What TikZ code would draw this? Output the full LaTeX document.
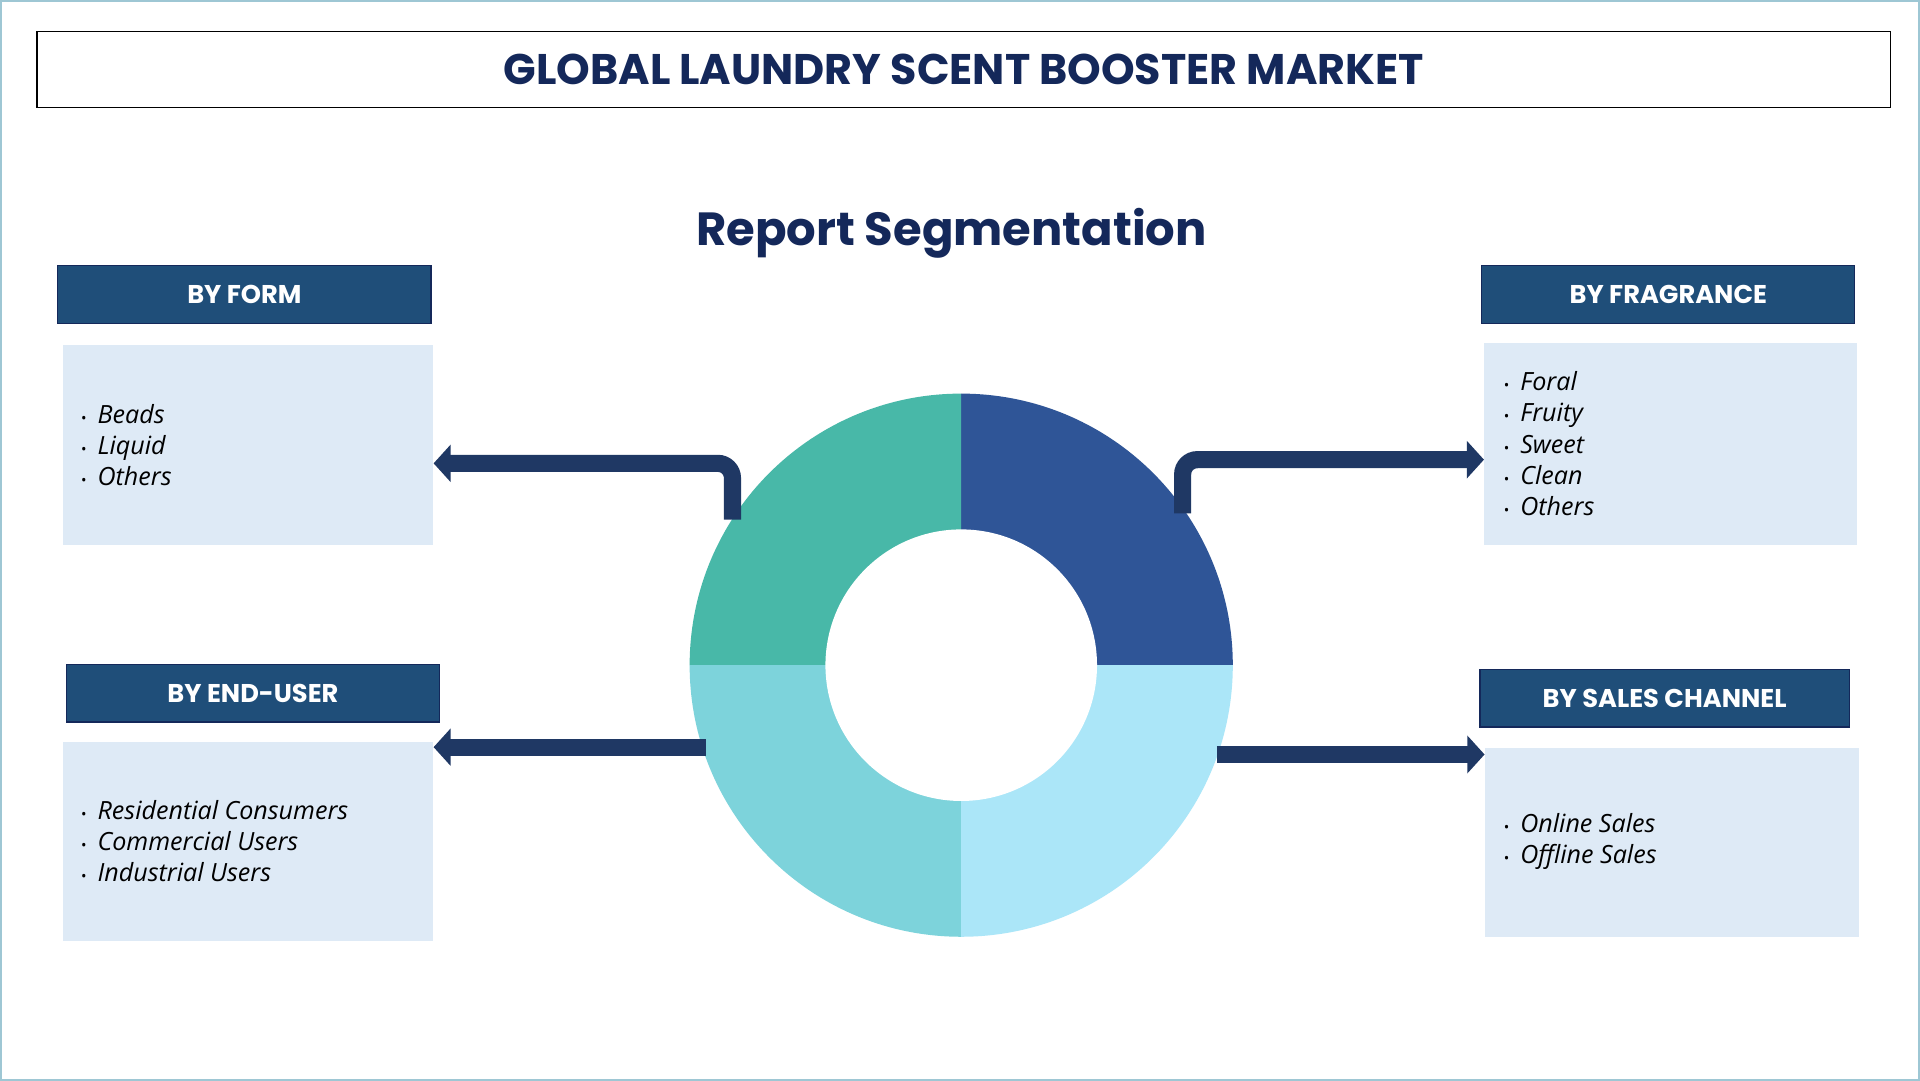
\documentclass[tikz,border=0pt]{standalone}
\usepackage{fontspec}
\setmainfont{Open Sans}
\newfontfamily\headfont{Poppins}
\usetikzlibrary{arrows.meta}
\definecolor{navy}{HTML}{14285A}
\definecolor{headblue}{HTML}{1F4E79}
\definecolor{paleblue}{HTML}{DEEAF6}
\definecolor{arrownavy}{HTML}{1F3864}
\definecolor{segA}{HTML}{2F5597}
\definecolor{segB}{HTML}{48B8A8}
\definecolor{segC}{HTML}{7DD3DB}
\definecolor{segD}{HTML}{ABE6F8}
\tikzset{
  headbox/.style={draw=navy, line width=1pt, fill=headblue, text=white, font=\headfont\bfseries\fontsize{21}{24}\selectfont, minimum width=305pt, minimum height=47pt, inner sep=0pt},
  listbox/.style={fill=paleblue, minimum width=303pt, inner sep=0pt},
  itemtext/.style={anchor=west, font=\itshape\fontsize{20.5}{25.5}\selectfont, align=left, text=black},
  segarrow/.style={draw=arrownavy, line width=14pt, rounded corners=12pt, -{Triangle[width=30pt,length=14pt]}}
}
\newcommand{\bul}{{\upshape\large\textbullet}\hspace{9pt}}
\begin{document}
\begin{tikzpicture}[x=1pt,y=-1pt]
  \draw[fill=white, draw=segD!70!gray, line width=1.5pt] (0,0) rectangle (1568,882);
  \node[draw=black, line width=1pt, minimum width=1515pt, minimum height=62pt, font=\headfont\bfseries\fontsize{35}{40}\selectfont, text=navy] (title) at (787,56) {GLOBAL LAUNDRY SCENT BOOSTER MARKET};
  \node[font=\headfont\bfseries\fontsize{38}{42}\selectfont, text=navy] (report) at (777,190) {Report Segmentation};

  % donut
  \fill[segA] (785,543) -- (785,321) arc[start angle=-90, end angle=0, radius=222] -- cycle;
  \fill[segB] (785,543) -- (785,321) arc[start angle=-90, end angle=-180, radius=222] -- cycle;
  \fill[segC] (785,543) -- (563,543) arc[start angle=180, end angle=90, radius=222] -- cycle;
  \fill[segD] (785,543) -- (1007,543) arc[start angle=0, end angle=90, radius=222] -- cycle;
  \node[circle, fill=white, minimum size=222pt, inner sep=0pt] (hole) at (785,543) {};

  % segments
  \node[headbox] (formhead) at (199,240) {BY FORM};
  \node[listbox, minimum height=163pt] (formlist) at (202,363) {};
  \node[itemtext] (formitems) at (62,363) {\bul Beads\\ \bul Liquid\\ \bul Others};

  \node[headbox] (fraghead) at (1363,240) {BY FRAGRANCE};
  \node[listbox, minimum height=165pt, minimum width=305pt] (fraglist) at (1365,362) {};
  \node[itemtext] (fragitems) at (1225,362) {\bul Foral\\ \bul Fruity\\ \bul Sweet\\ \bul Clean\\ \bul Others};

  \node[headbox] (endhead) at (206,566) {BY END-USER};
  \node[listbox, minimum height=163pt] (endlist) at (202,687) {};
  \node[itemtext] (enditems) at (62,687) {\bul Residential Consumers\\ \bul Commercial Users\\ \bul Industrial Users};

  \node[headbox, minimum width=302pt] (saleshead) at (1360,570) {BY SALES CHANNEL};
  \node[listbox, minimum height=155pt, minimum width=306pt] (saleslist) at (1366,688) {};
  \node[itemtext] (salesitems) at (1225,687) {\bul Online Sales\\ \bul Offline Sales};

  % arrows
  \coordinate (formstart) at (598,424);
  \coordinate (fragstart) at (966,419);
  \coordinate (endstart) at (576,610);
  \coordinate (salesstart) at (994,616);
  \draw[segarrow] (formstart) -- (598,378) -- (formlist.east |- 0,378);
  \draw[segarrow] (fragstart) -- (966,375) -- (fraglist.west |- 0,375);
  \draw[segarrow] (endstart) -- (endlist.east |- 0,610);
  \draw[segarrow] (salesstart) -- (saleslist.west |- 0,616);
\end{tikzpicture}
\end{document}
